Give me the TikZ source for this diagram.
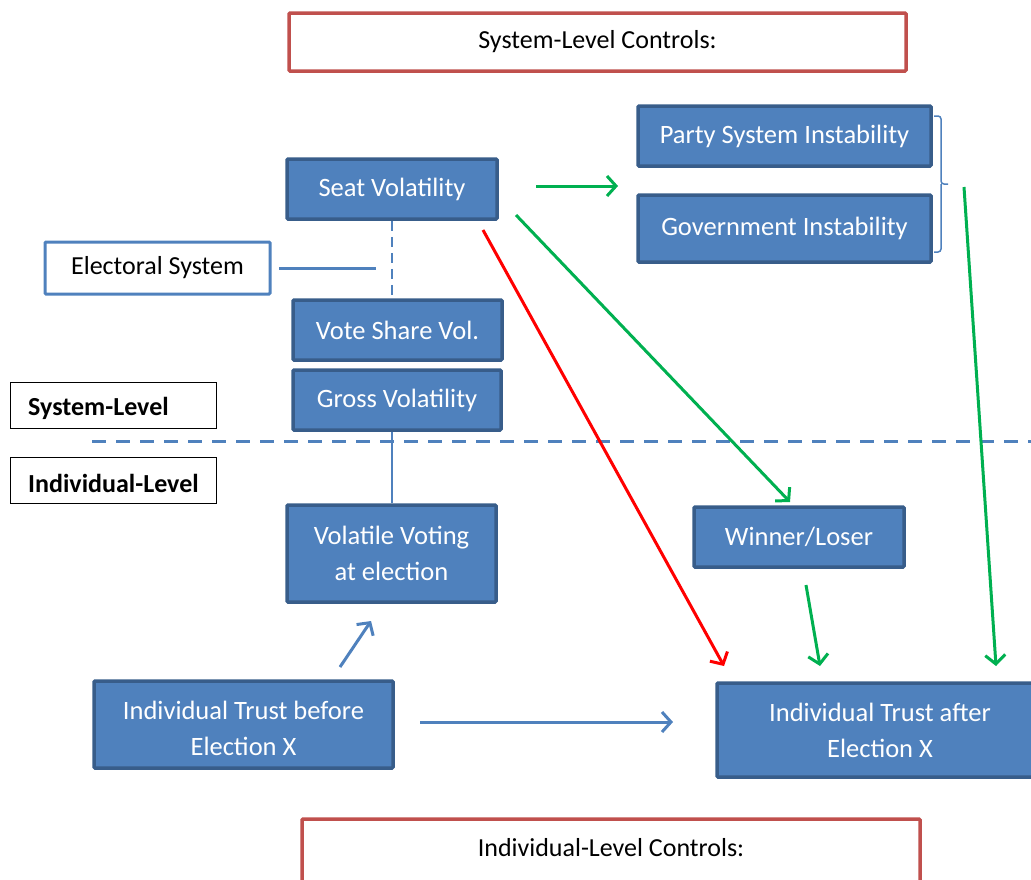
\documentclass[tikz,border=0pt]{standalone}
\usepackage{fontspec}
\setmainfont{Carlito}
\usetikzlibrary{arrows.meta}
\definecolor{bfill}{HTML}{4F81BD}
\definecolor{bdraw}{HTML}{385D8A}
\definecolor{rbox}{HTML}{C0504D}
\definecolor{gline}{HTML}{00B050}
\definecolor{rline}{HTML}{FF0000}
\tikzset{
  bluebox/.style={draw=bdraw, fill=bfill, line width=3.5pt, text=white, rounded corners=1pt,
    font=\fontsize{26.5}{36}\selectfont, align=center, inner sep=0pt},
  redbox/.style={draw=rbox, fill=white, line width=3.5pt, rounded corners=1pt,
    font=\fontsize{26}{30}\selectfont, inner sep=0pt},
  whitebox/.style={draw=bfill, fill=white, line width=3pt, rounded corners=1pt,
    font=\fontsize{26}{30}\selectfont, inner sep=0pt},
  levelbox/.style={draw=black, line width=0.8pt, inner sep=0pt, minimum width=206pt, minimum height=46pt},
  leveltext/.style={font=\bfseries\fontsize{26}{30}\selectfont, inner sep=0pt, anchor=west},
  plaintext/.style={font=\fontsize{26}{30}\selectfont, inner sep=0pt},
  garrow/.style={draw=gline, line width=3pt, -{Straight Barb[length=9pt,width=20pt,line width=3pt]}},
  rarrow/.style={draw=rline, line width=3pt, -{Straight Barb[length=9pt,width=20pt,line width=3pt]}},
  barrow/.style={draw=bfill, line width=3pt, -{Straight Barb[length=9pt,width=20pt,line width=3pt]}},
  bline/.style={draw=bfill, line width=3pt},
}
\begin{document}
\begin{tikzpicture}[x=1pt,y=-1pt]
\useasboundingbox (0,0) rectangle (1031,879);

% control boxes
\node[redbox, minimum width=617pt, minimum height=58pt] (sysctrl) at (597.5,42) {System-Level Controls:};
\node[redbox, minimum width=618pt, minimum height=64pt] (indctrl) at (611,851) {};
\node[plaintext] (indctrltext) at (611,848) {Individual-Level Controls:};

% level labels
\node[levelbox] (syslev) at (113,405) {};
\node[leveltext] (syslevtext) at (28,408) {System-Level};
\node[levelbox] (indlev) at (113,480) {};
\node[leveltext] (indlevtext) at (28,483) {Individual-Level};

% blue boxes
\node[bluebox, minimum width=210pt, minimum height=60pt] (seat) at (392,189) {Seat Volatility};
\node[bluebox, minimum width=209pt, minimum height=60pt] (vote) at (397.5,330) {Vote Share Vol.};
\node[bluebox, minimum width=208pt, minimum height=60pt] (gross) at (397,400) {Gross Volatility};
\node[bluebox, minimum width=209pt, minimum height=97pt] (volat) at (391.5,553.5) {Volatile Voting\\at election};
\node[bluebox, minimum width=299pt, minimum height=87pt] (before) at (243.5,724.5) {};
\node[bluebox, draw=none, fill=none] (beforetext) at (243.5,728) {Individual Trust before\\Election X};
\node[bluebox, minimum width=326pt, minimum height=94pt] (after) at (880,730) {Individual Trust after\\Election X};
\node[bluebox, minimum width=293pt, minimum height=60pt] (party) at (784.5,136) {Party System Instability};
\node[bluebox, minimum width=293pt, minimum height=67pt] (gov) at (784.5,228.5) {Government Instability};
\node[bluebox, minimum width=210pt, minimum height=60pt] (win) at (799,537) {Winner/Loser};

% electoral system
\node[whitebox, minimum width=225pt, minimum height=52pt] (elec) at (157.5,268) {Electoral System};

% connectors
\coordinate (elecR) at (279,268);
\coordinate (dashM) at (376,268);
\draw[bline] (elecR) -- (dashM);
\draw[draw=bfill, line width=2.5pt, dash pattern=on 10pt off 6pt] (seat.south) -- (seat.south |- vote.north);
\draw[draw=bfill, line width=2pt] (gross.south -| volat.north) -- (volat.north);

% level separator
\coordinate (sepL) at (92,441);
\coordinate (sepR) at (1031,441);
\draw[draw=bfill, line width=3pt, dash pattern=on 14pt off 10pt] (sepL) -- (sepR);

% brace
\coordinate (brTop) at (934,116);
\coordinate (brBot) at (934,252);
\coordinate (brTip) at (948,184);
\draw[draw=bfill, line width=1.5pt, rounded corners=3pt]
  (brTop) -- (941,116) -- (941,184) -- (brTip)
  (941,184) -- (941,252) -- (brBot);

% arrows
\coordinate (a1s) at (536,186); \coordinate (a1e) at (618,186);
\draw[garrow] (a1s) -- (a1e);
\coordinate (a2s) at (516,215); \coordinate (a2e) at (790,502);
\draw[garrow] (a2s) -- (a2e);
\coordinate (a3s) at (483,230); \coordinate (a3e) at (724,666);
\draw[rarrow] (a3s) -- (a3e);
\coordinate (a4s) at (964,187); \coordinate (a4e) at (996,666);
\draw[garrow] (a4s) -- (a4e);
\coordinate (a5s) at (806,585); \coordinate (a5e) at (820,666);
\draw[garrow] (a5s) -- (a5e);
\coordinate (a6s) at (420,722); \coordinate (a6e) at (673,722);
\draw[barrow] (a6s) -- (a6e);
\coordinate (a7s) at (340,667); \coordinate (a7e) at (371,621);
\draw[barrow] (a7s) -- (a7e);
\end{tikzpicture}
\end{document}
